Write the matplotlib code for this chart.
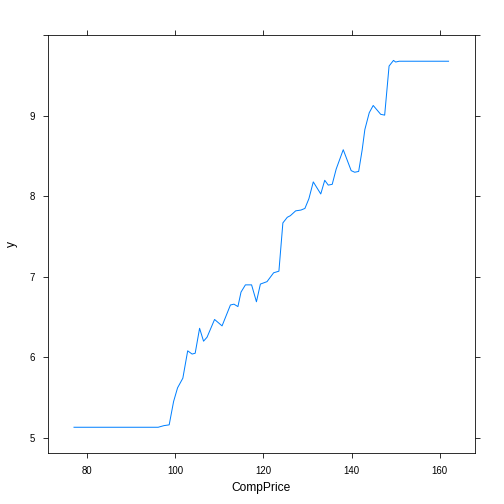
import matplotlib
matplotlib.use("Agg")
import matplotlib.pyplot as plt

# partial dependence of y on CompPrice
comp_price = [77, 96.1, 97.4, 98.6, 99.6, 100.5, 101.7, 102.8, 103.8, 104.5,
              105.5, 106.4, 107.2, 108.9, 110.6, 112.5, 113.3, 114.2, 114.9,
              115.9, 117.3, 118.4, 119.3, 120.8, 122.3, 123.5, 124.4, 125.4,
              126.1, 127.3, 128.5, 129.4, 130.3, 131.3, 133.0, 133.9, 134.7,
              135.6, 136.5, 138.1, 139.9, 140.7, 141.6, 142.4, 143.0, 144.0,
              144.9, 146.6, 147.5, 148.5, 149.5, 150.0, 150.8, 162]
yhat = [5.13, 5.13, 5.15, 5.16, 5.45, 5.62, 5.74, 6.08, 6.04, 6.05,
        6.36, 6.20, 6.25, 6.47, 6.39, 6.65, 6.66, 6.63, 6.81,
        6.90, 6.90, 6.69, 6.91, 6.94, 7.05, 7.07, 7.67, 7.74,
        7.76, 7.82, 7.83, 7.85, 7.97, 8.18, 8.03, 8.20, 8.14,
        8.15, 8.34, 8.58, 8.32, 8.30, 8.31, 8.58, 8.83, 9.04,
        9.13, 9.02, 9.01, 9.62, 9.69, 9.67, 9.68, 9.68]

x_ticks = [80, 100, 120, 140, 160]
y_ticks = [5, 6, 7, 8, 9, 10]
y_labels = ["5", "6", "7", "8", "9", ""]

plt.rcParams["font.family"] = ["Liberation Sans", "DejaVu Sans"]

fig = plt.figure(figsize=(7, 7), dpi=72)
ax = fig.add_axes([48 / 504, 1 - 453 / 504, 427 / 504, 418 / 504])
ax.plot(comp_price, yhat, color="#0080ff", lw=1)

ax.set_xlim(71.1, 168.0)
ax.set_ylim(4.81, 10.006)
ax.set_xticks(x_ticks)
ax.set_yticks(y_ticks)
ax.set_yticklabels(y_labels)
ax.tick_params(direction="out", length=5, width=0.8, labelsize=9.6,
               top=True, right=True, labeltop=False, labelright=False,
               pad=8)
for s in ax.spines.values():
    s.set_linewidth(0.8)
ax.set_xlabel("CompPrice", fontsize=12, labelpad=6)
ax.set_ylabel("y", fontsize=12, labelpad=12)

fig.savefig("out.png", dpi=72)
